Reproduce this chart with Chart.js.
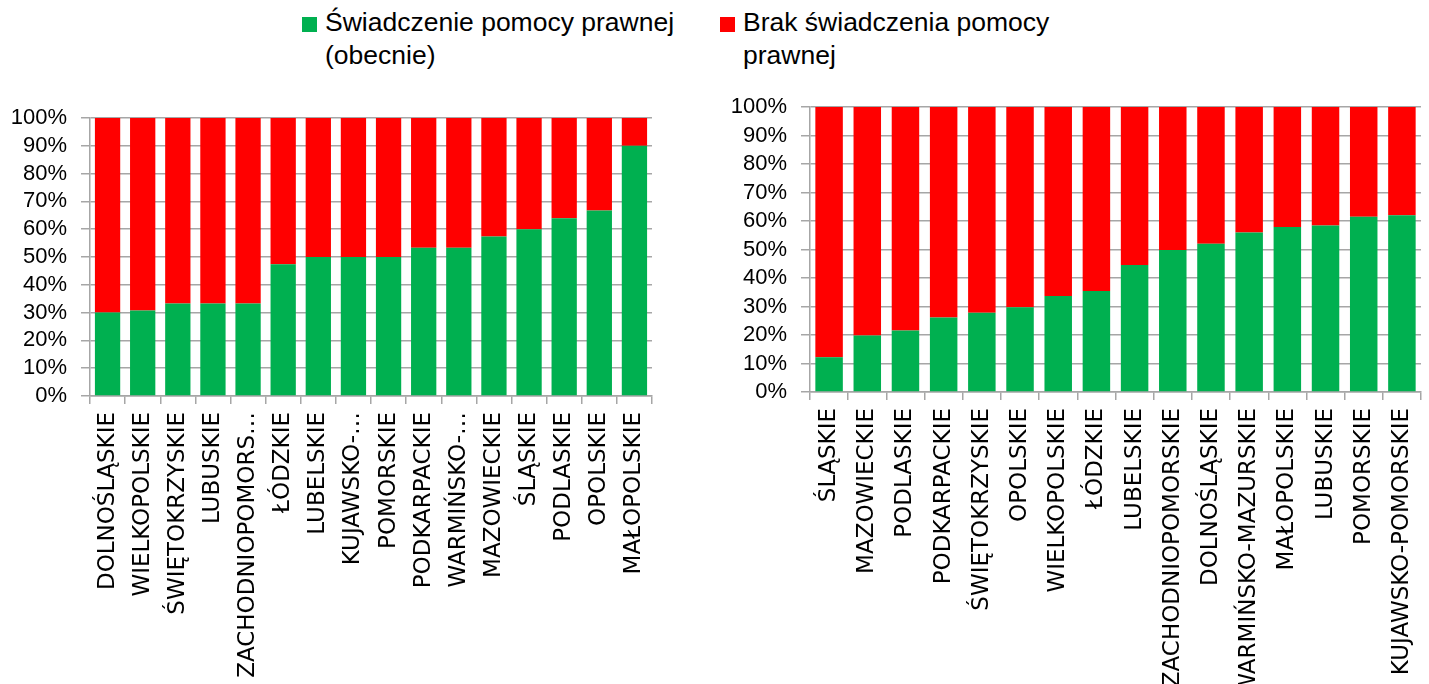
<!DOCTYPE html>
<html>
<head>
<meta charset="utf-8">
<script src="https://cdn.jsdelivr.net/npm/chart.js@4.4.1/dist/chart.umd.min.js"></script>
<style>
  body {
    margin: 0;
    width: 1429px;
    height: 684px;
    background: #fff;
    position: relative;
    overflow: hidden;
    font-family: "Liberation Sans", Arial, sans-serif;
  }
  canvas { position: absolute; top: 0; }
  #leftChart { left: 0; }
  #rightChart { left: 700px; }
  .legend-box { position: absolute; top: 17px; width: 15px; height: 15px; }
  .legend-text {
    position: absolute;
    top: 6px;
    font-size: 26.5px;
    line-height: 33px;
    color: #000;
    white-space: nowrap;
  }
</style>
</head>
<body>
<div class="legend-box" style="left:302px;background:#00b050"></div>
<div class="legend-text" style="left:325px">Świadczenie pomocy prawnej<br>(obecnie)</div>
<div class="legend-box" style="left:720px;background:#ff0000"></div>
<div class="legend-text" style="left:743px">Brak świadczenia pomocy<br>prawnej</div>

<canvas id="leftChart" width="700" height="684"></canvas>
<canvas id="rightChart" width="729" height="684"></canvas>

<script>
const seriesNames = ["Świadczenie pomocy prawnej (obecnie)", "Brak świadczenia pomocy prawnej"];

// left chart
const regionsLeft = [
  "DOLNOŚLĄSKIE", "WIELKOPOLSKIE", "ŚWIĘTOKRZYSKIE", "LUBUSKIE", "ZACHODNIOPOMORS…",
  "ŁÓDZKIE", "LUBELSKIE", "KUJAWSKO-…", "POMORSKIE", "PODKARPACKIE",
  "WARMIŃSKO-…", "MAZOWIECKIE", "ŚLĄSKIE", "PODLASKIE", "OPOLSKIE", "MAŁOPOLSKIE"
];
const helpLeft = [30, 30.8, 33.3, 33.3, 33.3, 47.4, 50, 50, 50, 53.3, 53.3, 57.4, 60, 63.9, 66.7, 90];
const noHelpLeft = [70, 69.2, 66.7, 66.7, 66.7, 52.6, 50, 50, 50, 46.7, 46.7, 42.6, 40, 36.1, 33.3, 10];

// right chart
const regionsRight = [
  "ŚLĄSKIE", "MAZOWIECKIE", "PODLASKIE", "PODKARPACKIE", "ŚWIĘTOKRZYSKIE",
  "OPOLSKIE", "WIELKOPOLSKIE", "ŁÓDZKIE", "LUBELSKIE", "ZACHODNIOPOMORSKIE",
  "DOLNOŚLĄSKIE", "WARMIŃSKO-MAZURSKIE", "MAŁOPOLSKIE", "LUBUSKIE", "POMORSKIE", "KUJAWSKO-POMORSKIE"
];
const helpRight = [12.2, 19.8, 21.6, 26.1, 27.8, 29.7, 33.7, 35.4, 44.6, 49.8, 52, 56, 57.9, 58.4, 61.5, 62];
const noHelpRight = [87.8, 80.2, 78.4, 73.9, 72.2, 70.3, 66.3, 64.6, 55.4, 50.2, 48, 44, 42.1, 41.6, 38.5, 38];

const yTicks = [0, 10, 20, 30, 40, 50, 60, 70, 80, 90, 100];

const GREEN = "#00b050";
const RED = "#ff0000";
const GRID = "#a6a6a6";

function stackedChart(id, labels, help, noHelp, box) {
  const ctx = document.getElementById(id).getContext("2d");
  return new Chart(ctx, {
    type: "bar",
    data: {
      labels: labels,
      datasets: [
        {
          label: seriesNames[0],
          data: help,
          backgroundColor: GREEN,
          barPercentage: 0.72,
          categoryPercentage: 1.0,
        },
        {
          label: seriesNames[1],
          data: noHelp,
          backgroundColor: RED,
          barPercentage: 0.72,
          categoryPercentage: 1.0,
        },
      ],
    },
    options: {
      responsive: false,
      animation: false,
      layout: {
        autoPadding: false,
        padding: { left: 0, top: box.top, right: box.right, bottom: 0 },
      },
      plugins: {
        legend: { display: false },
        tooltip: { enabled: false },
      },
      scales: {
        x: {
          stacked: true,
          grid: {
            display: true,
            drawOnChartArea: false,
            offset: true,
            tickLength: 8,
            color: GRID,
            lineWidth: 1.5,
          },
          border: { display: true, color: GRID, width: 1.5 },
          ticks: {
            autoSkip: false,
            minRotation: 90,
            maxRotation: 90,
            padding: 8,
            color: "#000",
            font: { family: "DejaVu Sans", size: 23 },
          },
          afterFit: (scale) => {
            scale.height = box.xHeight;
            // keep the plot edges where the picture has them
            scale.paddingLeft = 0;
            scale.paddingRight = 0;
          },
        },
        y: {
          stacked: true,
          min: 0,
          max: 100,
          afterBuildTicks: (scale) => { scale.ticks = yTicks.map((v) => ({ value: v })); },
          ticks: {
            autoSkip: false,
            padding: 14,
            color: "#000",
            font: { family: "Liberation Sans", size: 22 },
            callback: (value) => value + "%",
          },
          grid: { color: GRID, tickLength: 9, lineWidth: 1.5 },
          border: { display: true, color: GRID, width: 1.5 },
          afterFit: (scale) => { scale.width = box.yWidth; },
        },
      },
    },
  });
}

stackedChart("leftChart", regionsLeft, helpLeft, noHelpLeft, { top: 118, right: 48, xHeight: 288, yWidth: 90 });
stackedChart("rightChart", regionsRight, helpRight, noHelpRight, { top: 107, right: 8, xHeight: 292, yWidth: 110 });
</script>
</body>
</html>
